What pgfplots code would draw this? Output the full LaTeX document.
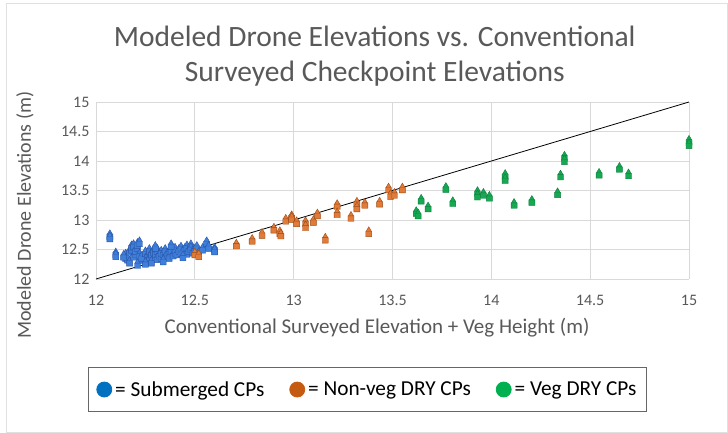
\documentclass[border=0pt]{standalone}
\usepackage{fontspec}
\setmainfont{Carlito}
\usepackage{pgfplots}
\pgfplotsset{compat=1.18}
\definecolor{txt}{HTML}{595959}
\definecolor{gridc}{HTML}{D9D9D9}
\definecolor{bfill}{HTML}{3F7FDC}
\definecolor{bedge}{HTML}{2856A8}
\definecolor{ofill}{HTML}{E07B39}
\definecolor{oedge}{HTML}{9C4A14}
\definecolor{gfill}{HTML}{16A951}
\definecolor{gedge}{HTML}{0E8040}
\definecolor{lblue}{HTML}{0070C0}
\definecolor{lorange}{HTML}{C55A11}
\definecolor{lgreen}{HTML}{00B050}
\pgfdeclareplotmark{ts}{%
  \pgfpathrectangle{\pgfpoint{-3pt}{-4.8pt}}{\pgfpoint{6pt}{5.4pt}}%
  \pgfpathmoveto{\pgfpoint{-2.6pt}{0.6pt}}%
  \pgfpathlineto{\pgfpoint{2.6pt}{0.6pt}}%
  \pgfpathlineto{\pgfpoint{0pt}{5pt}}%
  \pgfpathclose
  \pgfusepathqfillstroke}
\begin{document}
\begin{tikzpicture}
\useasboundingbox (0,0) rectangle (728pt,-433pt);
\fill[white] (0,0) rectangle (728pt,-433pt);
\draw[black!12] (6pt,-3pt) rectangle (727.5pt,-432.5pt);
\begin{axis}[
  at={(96pt,-279pt)}, anchor=south west,
  scale only axis, width=593pt, height=177pt,
  xmin=12, xmax=15, ymin=12, ymax=15,
  xtick={12,12.5,...,15}, ytick={12,12.5,...,15},
  axis line style={draw=none},
  tick style={draw=none},
  clip=false,
  grid=major,
  major grid style={gridc, line width=0.9pt},
  /pgf/number format/assume math mode=true,
  ticklabel style={font=\fontsize{16}{19}\selectfont, text=txt},
  xticklabel style={yshift=-13pt},
  yticklabel style={xshift=-3pt},
  title={Modeled Drone Elevations vs. Conventional\\Surveyed Checkpoint Elevations},
  title style={at={(axis description cs:0.47,1.225)}, anchor=center, align=center,
    font=\fontsize{29.5}{35}\selectfont, text=txt},
  xlabel={Conventional Surveyed Elevation + Veg Height (m)},
  xlabel style={at={(axis description cs:0.474,-0.277)}, anchor=center,
    font=\fontsize{21}{25}\selectfont, text=txt},
  ylabel={Modeled Drone Elevations (m)},
  ylabel style={at={(axis description cs:-0.12,0.36)}, anchor=center, rotate=0,
    font=\fontsize{20}{24}\selectfont, text=txt},
  legend columns=3,
  legend style={at={(axis description cs:-0.0135,-0.497)}, anchor=north west,
    draw=black!60, line width=0.8pt, font=\fontsize{21.3}{25}\selectfont,
    inner xsep=8pt, inner ysep=12pt,
    /tikz/every even column/.append style={column sep=23pt},
    /tikz/every odd column/.append style={column sep=1pt}},
  legend cell align=left,
]
\addplot[black, line width=0.8pt, forget plot] coordinates {(12,12) (15,15)};
% Submerged CPs
\addplot[only marks, mark=ts, mark options={fill=bfill, draw=bedge, line width=0.4pt}, forget plot] coordinates {
(12.07,12.75) (12.07,12.71) (12.10,12.44) (12.10,12.41) (12.15,12.38) (12.15,12.42)
(12.16,12.35) (12.17,12.30) (12.17,12.48) (12.18,12.52) (12.18,12.56) (12.19,12.40)
(12.19,12.58) (12.20,12.45) (12.20,12.50) (12.21,12.55) (12.21,12.60) (12.22,12.42)
(12.23,12.34) (12.23,12.38) (12.25,12.46) (12.26,12.40) (12.27,12.36) (12.27,12.50)
(12.28,12.44) (12.28,12.30) (12.29,12.48) (12.30,12.40) (12.30,12.45) (12.31,12.36)
(12.31,12.50) (12.32,12.42) (12.33,12.38) (12.33,12.47) (12.34,12.44) (12.35,12.40)
(12.35,12.50) (12.36,12.43) (12.37,12.46) (12.37,12.38) (12.38,12.50) (12.39,12.42)
(12.40,12.47) (12.40,12.52) (12.41,12.44) (12.42,12.50) (12.43,12.46) (12.43,12.54)
(12.44,12.48) (12.45,12.52) (12.46,12.45) (12.46,12.56) (12.47,12.50) (12.48,12.58)
(12.48,12.53) (12.49,12.47) (12.50,12.50) (12.51,12.55) (12.52,12.45) (12.54,12.52)
(12.56,12.63) (12.57,12.55) (12.60,12.52) (12.60,12.49) (12.25,12.28) (12.14,12.40)
(12.22,12.63) (12.34,12.32) (12.44,12.39) (12.38,12.58) (12.30,12.55) (12.21,12.26)
};
% Non-veg DRY CPs
\addplot[only marks, mark=ts, mark options={fill=ofill, draw=oedge, line width=0.4pt}, forget plot] coordinates {
(12.50,12.44) (12.52,12.41) (12.71,12.59) (12.79,12.67) (12.84,12.77) (12.90,12.86)
(12.93,12.80) (12.935,12.76) (12.96,13.01) (12.99,13.07) (12.99,13.04) (13.015,12.97)
(13.06,12.97) (13.06,12.90) (13.10,12.99) (13.12,13.10) (13.16,12.69) (13.22,13.26)
(13.22,13.12) (13.29,13.06) (13.32,13.30) (13.32,13.22) (13.36,13.28) (13.38,12.80)
(13.435,13.30) (13.48,13.54) (13.49,13.43) (13.51,13.45) (13.55,13.54)
};
% Veg DRY CPs
\addplot[only marks, mark=ts, mark options={fill=gfill, draw=gedge, line width=0.4pt}, forget plot] coordinates {
(13.62,13.14) (13.63,13.10) (13.645,13.35) (13.68,13.22) (13.77,13.55) (13.805,13.31)
(13.93,13.48) (13.93,13.42) (13.96,13.45) (13.99,13.40) (14.07,13.77) (14.07,13.70)
(14.115,13.28) (14.205,13.33) (14.335,13.46) (14.35,13.76) (14.37,14.08) (14.37,14.02)
(14.545,13.79) (14.648,13.89) (14.694,13.78) (15.0,14.35) (15.0,14.29)
};
\addlegendimage{legend image code/.code={\fill[lblue] (0pt,0pt) circle (7.5pt);}}
\addlegendentry{= Submerged CPs}
\addlegendimage{legend image code/.code={\fill[lorange] (0pt,0pt) circle (7.5pt);}}
\addlegendentry{= Non-veg DRY CPs}
\addlegendimage{legend image code/.code={\fill[lgreen] (0pt,0pt) circle (7.5pt);}}
\addlegendentry{= Veg DRY CPs}
\end{axis}
\end{tikzpicture}
\end{document}
